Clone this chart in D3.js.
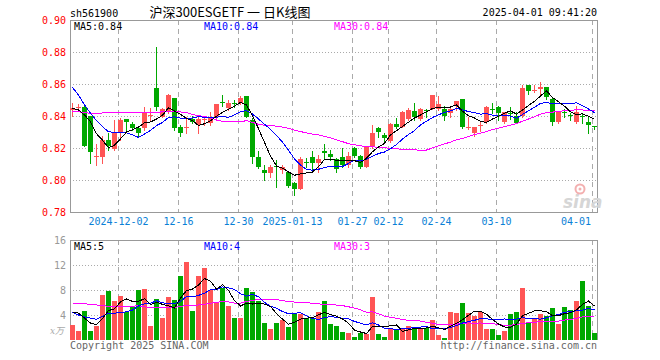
<!DOCTYPE html>
<html><head><meta charset="utf-8">
<script src="https://cdn.jsdelivr.net/npm/d3@7/dist/d3.min.js"></script>
<style>
body{margin:0;background:#fff}
svg{display:block}
text{font-family:"DejaVu Sans Mono",monospace;font-size:10px}
</style>
</head><body>
<svg id="c" width="660" height="360"></svg>
<script>
// ---------- DATA ----------
const dates = [
"2024-11-20","2024-11-21","2024-11-22","2024-11-25","2024-11-26","2024-11-27","2024-11-28","2024-11-29",
"2024-12-02","2024-12-03","2024-12-04","2024-12-05","2024-12-06","2024-12-09","2024-12-10","2024-12-11","2024-12-12","2024-12-13",
"2024-12-16","2024-12-17","2024-12-18","2024-12-19","2024-12-20","2024-12-23","2024-12-24","2024-12-25","2024-12-26","2024-12-27",
"2024-12-30","2024-12-31","2025-01-02","2025-01-03","2025-01-06","2025-01-07","2025-01-08","2025-01-09","2025-01-10",
"2025-01-13","2025-01-14","2025-01-15","2025-01-16","2025-01-17","2025-01-20","2025-01-21","2025-01-22","2025-01-23","2025-01-24",
"2025-01-27","2025-02-05","2025-02-06","2025-02-07","2025-02-10","2025-02-11","2025-02-12","2025-02-13","2025-02-14",
"2025-02-17","2025-02-18","2025-02-19","2025-02-20","2025-02-21","2025-02-24","2025-02-25","2025-02-26","2025-02-27","2025-02-28",
"2025-03-03","2025-03-04","2025-03-05","2025-03-06","2025-03-07","2025-03-10","2025-03-11","2025-03-12","2025-03-13","2025-03-14",
"2025-03-17","2025-03-18","2025-03-19","2025-03-20","2025-03-21","2025-03-24","2025-03-25","2025-03-26","2025-03-27","2025-03-28",
"2025-03-31","2025-04-01"];

const open = [
0.8440,0.8452,0.8454,0.8400,0.8148,0.8146,0.8250,0.8194,0.8292,0.8381,
0.8350,0.8327,0.8323,0.8400,0.8577,0.8396,0.8427,0.8510,0.8333,0.8329,
0.8381,0.8344,0.8377,0.8354,0.8392,0.8485,0.8448,0.8481,0.8479,0.8525,
0.8375,0.8146,0.8063,0.8046,0.8085,0.8063,0.8052,0.7979,0.7942,0.8110,
0.8142,0.8108,0.8183,0.8163,0.8131,0.8146,0.8094,0.8198,0.8150,0.8083,
0.8204,0.8327,0.8281,0.8246,0.8350,0.8333,0.8381,0.8433,0.8381,0.8435,
0.8444,0.8444,0.8444,0.8417,0.8463,0.8506,0.8327,0.8292,0.8338,0.8365,
0.8446,0.8458,0.8365,0.8421,0.8400,0.8400,0.8594,0.8556,0.8567,0.8579,
0.8504,0.8365,0.8423,0.8404,0.8365,0.8402,0.8365,0.8335];
const close = [
0.8448,0.8456,0.8213,0.8177,0.8152,0.8250,0.8213,0.8296,0.8375,0.8365,
0.8323,0.8296,0.8427,0.8404,0.8454,0.8442,0.8531,0.8327,0.8296,0.8333,
0.8365,0.8383,0.8381,0.8392,0.8475,0.8481,0.8483,0.8477,0.8510,0.8392,
0.8146,0.8079,0.8046,0.8083,0.8081,0.8079,0.7963,0.7942,0.8129,0.8106,
0.8108,0.8129,0.8167,0.8142,0.8067,0.8094,0.8150,0.8150,0.8083,0.8204,
0.8296,0.8302,0.8260,0.8350,0.8333,0.8427,0.8437,0.8392,0.8444,0.8431,
0.8531,0.8475,0.8400,0.8444,0.8496,0.8333,0.8331,0.8333,0.8342,0.8458,
0.8442,0.8417,0.8427,0.8417,0.8354,0.8573,0.8558,0.8560,0.8579,0.8517,
0.8365,0.8427,0.8419,0.8400,0.8427,0.8398,0.8344,0.8331];
const high = [
0.8479,0.8475,0.8463,0.8400,0.8225,0.8275,0.8292,0.8375,0.8385,0.8381,
0.8365,0.8333,0.8458,0.8448,0.8833,0.8448,0.8538,0.8510,0.8344,0.8396,
0.8400,0.8392,0.8400,0.8427,0.8475,0.8531,0.8500,0.8500,0.8525,0.8525,
0.8385,0.8183,0.8094,0.8094,0.8125,0.8094,0.8058,0.7990,0.8146,0.8135,
0.8183,0.8156,0.8225,0.8188,0.8135,0.8198,0.8177,0.8204,0.8156,0.8208,
0.8344,0.8333,0.8296,0.8354,0.8385,0.8431,0.8448,0.8483,0.8448,0.8444,
0.8531,0.8525,0.8463,0.8448,0.8496,0.8506,0.8392,0.8333,0.8365,0.8463,
0.8483,0.8463,0.8427,0.8454,0.8427,0.8594,0.8594,0.8594,0.8615,0.8583,
0.8510,0.8433,0.8444,0.8419,0.8463,0.8419,0.8396,0.8338];
const low = [
0.8402,0.8440,0.8210,0.8108,0.8094,0.8108,0.8188,0.8188,0.8250,0.8302,
0.8313,0.8275,0.8313,0.8375,0.8438,0.8392,0.8417,0.8313,0.8275,0.8292,
0.8358,0.8296,0.8344,0.8344,0.8386,0.8463,0.8438,0.8458,0.8475,0.8392,
0.8108,0.8073,0.8000,0.8021,0.7958,0.8046,0.7958,0.7906,0.7942,0.8083,
0.8052,0.8052,0.8135,0.8125,0.8052,0.8083,0.8083,0.8142,0.8073,0.8079,
0.8198,0.8271,0.8246,0.8240,0.8323,0.8329,0.8375,0.8375,0.8375,0.8392,
0.8444,0.8438,0.8375,0.8392,0.8438,0.8323,0.8317,0.8275,0.8308,0.8358,
0.8417,0.8375,0.8358,0.8379,0.8354,0.8396,0.8537,0.8552,0.8537,0.8504,
0.8344,0.8358,0.8396,0.8375,0.8358,0.8358,0.8296,0.8321];
const volume = [
2.4,1.5,4.7,1.5,2.2,7.2,7.9,6.2,7.0,4.5,
5.3,8.0,8.2,2.2,6.5,3.6,6.9,6.4,10.2,12.5,
4.7,10.2,11.6,8.0,6.1,8.4,5.5,3.6,3.6,8.4,
7.7,6.2,2.8,1.7,2.8,3.2,2.1,4.4,4.2,3.6,
3.5,4.5,6.2,2.6,2.2,1.3,1.2,0.5,1.2,1.0,
6.9,1.0,0.5,2.0,1.7,1.7,2.2,1.7,2.0,2.0,
3.2,0.8,0.4,4.5,4.4,6.0,4.4,3.9,4.5,1.8,
1.8,0.8,1.5,4.2,4.5,8.4,2.7,3.6,4.2,3.8,
5.2,2.6,5.3,4.8,6.2,9.5,5.4,1.2];

// moving-average values before a full window exists
const ma5Head  = [0.8448,0.8438,0.8406,0.8365];
const ma10Head = [0.8579,0.8530,0.8470,0.8418,0.8371,0.8333,0.8302,0.8296,0.8296];
const ma30Head = [0.8431,0.8427,0.8421,0.8417,0.8417,0.8419,0.8419,0.8419,0.8419,0.8419,
                  0.8419,0.8419,0.8419,0.8419,0.8421,0.8427,0.8429,0.8429,0.8425,0.8421,
                  0.8410,0.8402,0.8396,0.8390,0.8375,0.8367,0.8365,0.8365,0.8365];
const vma5Head  = [4.5,4.3,3.5,2.7];
const vma10Head = [4.4,4.0,3.7,3.5,3.3,3.8,4.3,4.3,4.4];
const vma30Head = [5.8,5.8,5.8,5.7,5.6,5.5,5.4,5.4,5.3,5.3,
                   5.4,5.5,5.3,5.2,5.2,5.2,5.2,5.2,5.4,5.5,
                   5.5,5.6,5.7,5.9,6.0,6.2,6.1,5.9,5.9];

const priceTicks = [0.90,0.88,0.86,0.84,0.82,0.80,0.78];
const volTicks = [16,12,8,4];
const tickDates  = ["2024-12-02","2024-12-16","2024-12-30","2025-01-13","2025-01-27","2025-02-12","2025-02-24","2025-03-10","2025-04-01"];
const tickLabels = ["2024-12-02","12-16","12-30","2025-01-13","01-27","02-12","02-24","03-10","04-01"];

// ---------- DRAW ----------
const RED="#ff5555", GREEN="#00a800", GRID="#aaa", FRAME="#999";
const svg = d3.select("#c");
const N = dates.length;
const L = 70, R = 597;
const x = d3.scaleLinear().domain([0, N]).range([L, L + 6*N]);
const y = d3.scaleLinear().domain([0.78, 0.90]).range([212, 20]);
const vy = d3.scaleLinear().domain([0, 16]).range([340, 240]);
const idx = d3.range(N);

function ma(arr, n, head){
  return arr.map((v,i)=> i < n-1 ? head[i] : d3.mean(arr.slice(i-n+1, i+1)));
}
const ma5 = ma(close,5,ma5Head), ma10 = ma(close,10,ma10Head), ma30 = ma(close,30,ma30Head);
const vma5 = ma(volume,5,vma5Head), vma10 = ma(volume,10,vma10Head), vma30 = ma(volume,30,vma30Head);

const tickIdx = tickDates.map(d => dates.indexOf(d));
const isUp = i => close[i] >= open[i];

// grids
const g = svg.append("g").attr("shape-rendering","crispEdges");
// horizontal dotted (price)
priceTicks.filter(t => t<0.899 && t>0.781).forEach(t=>{
  const yy = Math.round(y(t))+0.5;
  g.append("line").attr("x1",L).attr("x2",R).attr("y1",yy).attr("y2",yy)
   .attr("stroke",GRID).attr("stroke-dasharray","1,2");
});
volTicks.filter(t=>t<16).forEach(t=>{
  const yy = Math.round(vy(t))+0.5;
  g.append("line").attr("x1",L).attr("x2",R).attr("y1",yy).attr("y2",yy)
   .attr("stroke",GRID).attr("stroke-dasharray","1,2");
});
// vertical dashed
tickIdx.forEach(i=>{
  const xx = x(i)+0.5;
  g.append("line").attr("x1",xx).attr("x2",xx).attr("y1",y(0.90)).attr("y2",y(0.78))
   .attr("stroke",GRID).attr("stroke-dasharray","5,4");
  g.append("line").attr("x1",xx).attr("x2",xx).attr("y1",vy(16)).attr("y2",vy(0))
   .attr("stroke",GRID).attr("stroke-dasharray","5,4");
});
// frames
g.append("rect").attr("x",L+0.5).attr("y",y(0.90)+0.5).attr("width",R-L).attr("height",y(0.78)-y(0.90))
 .attr("fill","none").attr("stroke",FRAME);
g.append("path").attr("d",`M${L+0.5},${vy(0)}V${vy(16)+0.5}H${R+0.5}V${vy(0)}`)
 .attr("fill","none").attr("stroke",FRAME);

// sina watermark
const wm = svg.append("g");
wm.append("text").attr("x",563).attr("y",208).text("sina")
  .style("font-family","DejaVu Sans").style("font-size","17px").style("font-style","italic").style("font-weight","bold")
  .attr("fill","#d6d6d6");
wm.append("circle").attr("cx",580).attr("cy",189).attr("r",4.5).attr("fill","none").attr("stroke","#f3b0b0").attr("stroke-width",2);
wm.append("circle").attr("cx",580).attr("cy",189).attr("r",1.5).attr("fill","#f3b0b0");

// volume bars
svg.append("g").attr("shape-rendering","crispEdges").selectAll("rect").data(idx).join("rect")
  .attr("x", i=>x(i)).attr("width",5)
  .attr("y", i=>Math.round(vy(volume[i])))
  .attr("height", i=>Math.max(1, Math.round(vy(0)) - Math.round(vy(volume[i]))))
  .attr("fill", i=> isUp(i)?RED:GREEN);

// candles
const cg = svg.append("g").attr("shape-rendering","crispEdges");
cg.selectAll("line").data(idx).join("line")
  .attr("x1", i=>x(i)+2.5).attr("x2", i=>x(i)+2.5)
  .attr("y1", i=>Math.round(y(high[i]))).attr("y2", i=>Math.round(y(low[i]))+1)
  .attr("stroke", i=> isUp(i)?RED:GREEN);
cg.selectAll("rect").data(idx).join("rect")
  .attr("x", i=>x(i)).attr("width",5)
  .attr("y", i=>Math.round(y(Math.max(open[i],close[i]))))
  .attr("height", i=>Math.max(1, Math.round(y(Math.min(open[i],close[i]))) - Math.round(y(Math.max(open[i],close[i])))))
  .attr("fill", i=> isUp(i)?RED:GREEN);

// MA lines
function drawLine(vals, sc, color){
  svg.append("path").datum(vals)
    .attr("d", d3.line().x((d,i)=>x(i)+2.5).y(d=>sc(d)))
    .attr("fill","none").attr("stroke",color).attr("stroke-width",1)
    .attr("shape-rendering","crispEdges");
}
drawLine(ma30,y,"#ff00ff"); drawLine(ma10,y,"#0000ff"); drawLine(ma5,y,"#000");
drawLine(vma30,vy,"#ff00ff"); drawLine(vma10,vy,"#0000ff"); drawLine(vma5,vy,"#000");

// axis labels
priceTicks.forEach(t=>{
  svg.append("text").attr("x",66).attr("y",y(t)+4).attr("text-anchor","end")
    .attr("fill","#f00").text(t.toFixed(2));
});
volTicks.forEach(t=>{
  svg.append("text").attr("x",66).attr("y",vy(t)+4).attr("text-anchor","end")
    .attr("fill","#999").text(t);
});
svg.append("text").attr("x",64).attr("y",334).attr("text-anchor","end").attr("fill","#aaa")
  .style("font-family","'DejaVu Serif','Noto Sans CJK SC',serif").style("font-style","italic").style("font-size","9px").text("x万");

tickIdx.forEach((i,k)=>{
  const cx = x(i)+0.5, w = tickLabels[k].length*6.02;
  const t = svg.append("text").attr("y",225).attr("fill","#0a7fd6").text(tickLabels[k]);
  if (cx + w/2 > 591) t.attr("x",591).attr("text-anchor","end");
  else t.attr("x",cx).attr("text-anchor","middle");
});

// header
svg.append("text").attr("x",70).attr("y",17).attr("fill","#000").text("sh561900");
svg.append("text").attr("x",230).attr("y",17).attr("text-anchor","middle").attr("fill","#000")
  .style("font-family","'Noto Sans CJK SC',sans-serif").style("font-size","13px").text("沪深300ESGETF 一 日K线图");
svg.append("text").attr("x",597).attr("y",16).attr("text-anchor","end").attr("fill","#000").text("2025-04-01 09:41:20");

const last = N-1;
svg.append("text").attr("x",74).attr("y",30).attr("fill","#000").text("MA5:"+ma5[last].toFixed(2));
svg.append("text").attr("x",204).attr("y",30).attr("fill","#0000ff").text("MA10:"+ma10[last].toFixed(2));
svg.append("text").attr("x",334).attr("y",30).attr("fill","#ff00ff").text("MA30:"+ma30[last].toFixed(2));

svg.append("text").attr("x",74).attr("y",250).attr("fill","#000").text("MA5:"+Math.floor(vma5[last]));
svg.append("text").attr("x",204).attr("y",250).attr("fill","#0000ff").text("MA10:"+Math.floor(vma10[last]));
svg.append("text").attr("x",334).attr("y",250).attr("fill","#ff00ff").text("MA30:"+Math.floor(vma30[last]));

// footer
svg.append("text").attr("x",70).attr("y",349).attr("fill","#666").text("Copyright 2025 SINA.COM");
svg.append("text").attr("x",597).attr("y",349).attr("text-anchor","end").attr("fill","#666").text("http://finance.sina.com.cn");
</script>
</body></html>
